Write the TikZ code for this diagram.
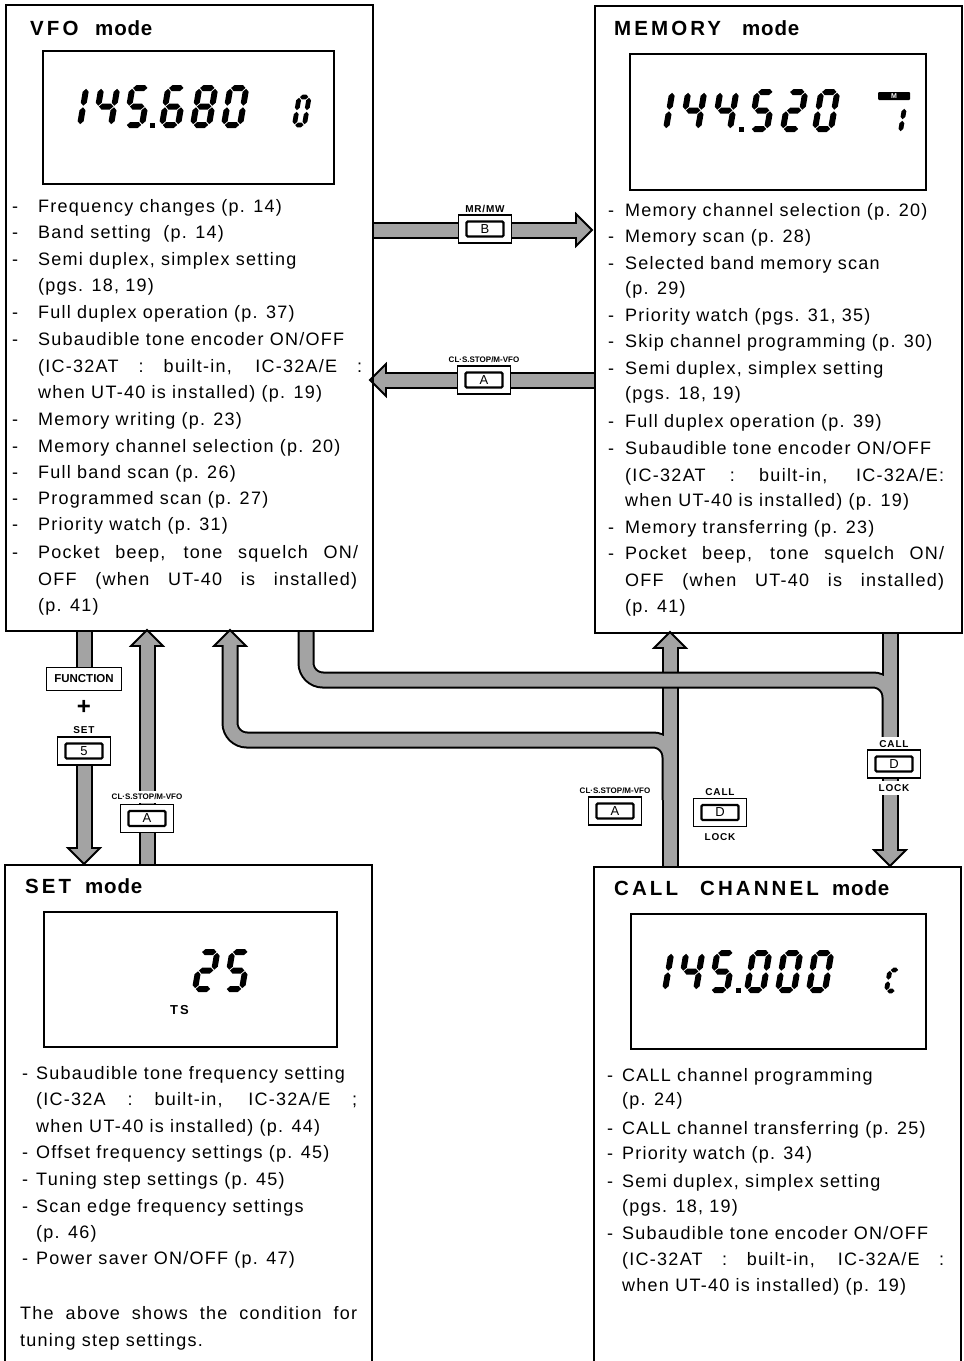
\documentclass[tikz,border=0pt]{standalone}
\usepackage{fontspec}
\setmainfont{Liberation Sans}
\newfontfamily\bodyf{Liberation Sans}[LetterSpace=7]
\newfontfamily\ttlf{Liberation Sans}[LetterSpace=15]
\newfontfamily\ttlg{Liberation Sans}[LetterSpace=4]
\newfontfamily\keyf{Liberation Sans}[LetterSpace=8]
\definecolor{shade}{gray}{0.64}

% seven-segment digits
\def\dW{16}\def\dH{37}\def\dT{3}\def\dG{0.8}
\newcommand\bigdigits{\def\dW{16}\def\dH{37}\def\dT{3}}
\newcommand\smalldigits[3]{\def\dW{#1}\def\dH{#2}\def\dT{#3}}
\newcommand\Hs[3]{\fill ({#1+\dG},{#3}) -- ({#1+\dG+\dT},{#3-\dT}) -- ({#2-\dG-\dT},{#3-\dT}) -- ({#2-\dG},{#3}) -- ({#2-\dG-\dT},{#3+\dT}) -- ({#1+\dG+\dT},{#3+\dT}) -- cycle;}
\newcommand\Vs[3]{\fill ({#1},{#2+\dG}) -- ({#1+\dT},{#2+\dG+\dT}) -- ({#1+\dT},{#3-\dG-\dT}) -- ({#1},{#3-\dG}) -- ({#1-\dT},{#3-\dG-\dT}) -- ({#1-\dT},{#2+\dG+\dT}) -- cycle;}
\newcommand\sA{\Hs{0}{\dW}{0}}
\newcommand\sB{\Vs{\dW}{0}{\dH/2}}
\newcommand\sC{\Vs{\dW}{\dH/2}{\dH}}
\newcommand\sD{\Hs{0}{\dW}{\dH}}
\newcommand\sE{\Vs{0}{\dH/2}{\dH}}
\newcommand\sF{\Vs{0}{0}{\dH/2}}
\newcommand\sG{\Hs{0}{\dW}{\dH/2}}
\newcommand\Dg[3]{\begin{scope}[shift={({#1+0.17*\dH+\dT},{#2-\dH})},xslant=0.17]
 \ifcase#3\relax \sA\sB\sC\sD\sE\sF
 \or \sB\sC
 \or \sA\sB\sG\sE\sD
 \or \sA\sB\sG\sC\sD
 \or \sF\sG\sB\sC
 \or \sA\sF\sG\sC\sD
 \or \sA\sF\sG\sE\sD\sC
 \or \sA\sB\sC
 \or \sA\sB\sC\sD\sE\sF\sG
 \or \sA\sB\sC\sD\sF\sG
 \or \sA\sF\sE\sD
 \fi
 \end{scope}}
\newcommand\Dot[2]{\fill (#1,#2) rectangle ({#1+5},{#2-5});}

% arrow heads (tip coordinates)
\newcommand\hdU[2]{\filldraw[head] (#1,#2) -- ({#1+16},{#2+16}) -- ({#1-16},{#2+16}) -- cycle;}
\newcommand\hdD[2]{\filldraw[head] (#1,#2) -- ({#1+16},{#2-16}) -- ({#1-16},{#2-16}) -- cycle;}
\newcommand\hdR[2]{\filldraw[head] (#1,#2) -- ({#1-16},{#2-16}) -- ({#1-16},{#2+16}) -- cycle;}
\newcommand\hdL[2]{\filldraw[head] (#1,#2) -- ({#1+16},{#2-16}) -- ({#1+16},{#2+16}) -- cycle;}

% text lines
\newcommand\Dl[5]{\node[txt] (#1d) at (#2,#4) {-}; \node[txt] (#1) at (#3,#4) {#5};}
\newcommand\Ln[4]{\node[txt] (#1) at (#2,#3) {#4};}
\newcommand\Md{{\ttlg mode}}

\begin{document}
\begin{tikzpicture}[x=1pt,y=-1pt,
  txt/.style={font=\bodyf\fontsize{18}{20}\selectfont, anchor=base west, inner sep=0},
  ttl/.style={font=\ttlf\bfseries\fontsize{20.5}{22}\selectfont, anchor=base west, inner sep=0},
  boxline/.style={draw, line width=1.6pt},
  lcd/.style={draw, line width=1.8pt, inner sep=0, anchor=north west},
  sout/.style={draw=black, line width=17pt},
  sin/.style={draw=shade, line width=13pt},
  head/.style={fill=shade, draw=black, line width=1.8pt, line join=miter},
  keyout/.style={draw, line width=1.1pt, fill=white, minimum width=53pt, minimum height=28pt, inner sep=0},
  keyin/.style={draw, line width=2.2pt, rounded corners=1.2pt, minimum width=37pt, minimum height=15pt, inner sep=0, font=\fontsize{13}{13}\selectfont},
  klab/.style={font=\keyf\bfseries\fontsize{10}{10}\selectfont, inner xsep=1.5pt, inner ysep=3pt, fill=white},
  klabs/.style={font=\bfseries\fontsize{8}{8}\selectfont, inner xsep=1pt, inner ysep=3pt, fill=white}]
\useasboundingbox (0,0) rectangle (964,1361);
\fill[white] (0,0) rectangle (964,1361);

% ---------- fat connectors ----------
% CALL -> MEMORY and CALL -> VFO
\draw[sout,rounded corners=17pt] (670,800) -- (670,740) -- (230,740) -- (230,646);
\draw[sout] (670,866) -- (670,648);
\hdU{230}{630}
\hdU{670}{632}
\draw[sin,rounded corners=17pt] (670,800) -- (670,740) -- (230,740) -- (230,643);
\draw[sin] (670,866) -- (670,645);
% VFO -> CALL and MEMORY -> CALL
\draw[sout,rounded corners=17pt] (306,630) -- (306,680) -- (890,680) -- (890,740);
\draw[sout] (890,632) -- (890,850);
\hdD{890}{866}
\draw[sin,rounded corners=17pt] (306,630) -- (306,680) -- (890,680) -- (890,740);
\draw[sin] (890,632) -- (890,853);
% VFO -> MEMORY
\draw[sout] (372,230) -- (576,230);
\hdR{592}{230}
\draw[sin] (372,230) -- (579,230);
% MEMORY -> VFO
\draw[sout] (594,380) -- (386,380);
\hdL{370}{380}
\draw[sin] (594,380) -- (383,380);
% VFO -> SET
\draw[sout] (84,630) -- (84,672);
\draw[sout] (84,760) -- (84,848);
\hdD{84}{864}
\draw[sin] (84,630) -- (84,672);
\draw[sin] (84,760) -- (84,851);
% SET -> VFO
\draw[sout] (147,864) -- (147,646);
\hdU{147}{630}
\draw[sin] (147,864) -- (147,643);

% ---------- keys ----------
\node[klab] (kbl) at (485,209) {MR/MW};
\node[keyout] (kb) at (485,229) {};
\node[keyin] (kbi) at (kb.center) {B};

\node[klabs] (ka1l) at (484,360) {CL·S.STOP/M-VFO};
\node[keyout] (ka1) at (484,380) {};
\node[keyin] (ka1i) at (ka1.center) {A};

\node[draw, line width=1.1pt, fill=white, minimum width=75pt, minimum height=23pt, inner sep=0, font=\bfseries\fontsize{11.5}{12}\selectfont] (fn) at (84,679) {FUNCTION};
\node[font=\bfseries\fontsize{24}{24}\selectfont, inner sep=0] (plus) at (84,707) {+};
\node[klab] (k5l) at (84,730) {SET};
\node[keyout] (k5) at (84,751) {};
\node[keyin] (k5i) at (k5.center) {5};

\node[klabs] (ka2l) at (147,797) {CL·S.STOP/M-VFO};
\node[keyout] (ka2) at (147,818.5) {};
\node[keyin] (ka2i) at (ka2.center) {A};

\node[klabs] (ka3l) at (615,791) {CL·S.STOP/M-VFO};
\node[keyout] (ka3) at (615,811) {};
\node[keyin] (ka3i) at (ka3.center) {A};

\node[klab] (kd1t) at (720,792) {CALL};
\node[keyout] (kd1) at (720,812.5) {};
\node[keyin] (kd1i) at (kd1.center) {D};
\node[klab] (kd1b) at (720,837) {LOCK};

\node[klab] (kd2t) at (894,744) {CALL};
\node[keyout] (kd2) at (894,764) {};
\node[keyin] (kd2i) at (kd2.center) {D};
\node[klab] (kd2b) at (894,788) {LOCK};

% ---------- mode boxes ----------
\node[boxline, minimum width=367pt, minimum height=626pt, anchor=north west, inner sep=0] (vfo) at (5,4) {};
\node[boxline, minimum width=367pt, minimum height=627pt, anchor=north west, inner sep=0] (mem) at (594,5) {};
\draw[boxline] (5,1380) -- (5,865) -- (372,865) -- (372,1380);
\draw[boxline] (594,1380) -- (594,867) -- (961,867) -- (961,1380);

% titles
\node[ttl] (tv) at (30,35) {\makebox[65pt][l]{VFO}\Md};
\node[ttl] (tm) at (614,35) {\makebox[128pt][l]{MEMORY}\Md};
\node[ttl] (ts) at (25,893) {\makebox[60pt][l]{SET}\Md};
\node[ttl] (tc) at (614,895) {\makebox[86pt][l]{CALL}\makebox[132pt][l]{CHANNEL}\Md};

% LCDs
\node[lcd, minimum width=291pt, minimum height=133pt] (lv) at (42,50) {};
\node[lcd, minimum width=296pt, minimum height=136pt] (lm) at (629,53) {};
\node[lcd, minimum width=293pt, minimum height=135pt] (ls) at (43,911) {};
\node[lcd, minimum width=295pt, minimum height=135pt] (lc) at (630,913) {};

% VFO display 145.680 0
\bigdigits
\Dg{61}{125}{1}\Dg{92}{125}{4}\Dg{123}{125}{5}\Dot{150}{128}
\Dg{159}{125}{6}\Dg{190}{125}{8}\Dg{221}{125}{0}
% MEMORY display 144.520 1
\Dg{647}{129}{1}\Dg{679}{129}{4}\Dg{711}{129}{4}\Dot{739}{132}
\Dg{748}{129}{5}\Dg{780}{129}{2}\Dg{812}{129}{0}
% SET display 25
\Dg{192}{989}{2}\Dg{223}{989}{5}
% CALL display 145.000 C
\Dg{646}{990}{1}\Dg{677}{990}{4}\Dg{708}{990}{5}\Dot{736}{993}
\Dg{744}{990}{0}\Dg{775}{990}{0}\Dg{806}{990}{0}
\smalldigits{10}{28}{2.4}
\Dg{292}{125}{0}
\smalldigits{8}{24}{2.4}
\Dg{890}{132}{1}
\smalldigits{9}{21}{2.4}
\Dg{884}{991}{10}
\node[fill=black, rounded corners=1pt, text=white, font=\bfseries\fontsize{7}{7}\selectfont, minimum width=32pt, minimum height=8pt, inner sep=0] (mbadge) at (894,96) {M};
\node[font=\keyf\bfseries\fontsize{13}{13}\selectfont, anchor=base west, inner sep=0] (tsl) at (170,1014) {T\hspace{2pt}S};

% ---------- VFO text ----------
\Dl{v1}{12}{38}{212}{Frequency changes (p. 14)}
\Dl{v2}{12}{38}{238}{Band setting\ \ (p. 14)}
\Dl{v3}{12}{38}{265}{Semi duplex, simplex setting}
\Ln{v4}{38}{291}{(pgs. 18, 19)}
\Dl{v5}{12}{38}{318}{Full duplex operation (p. 37)}
\Dl{v6}{12}{38}{345}{Subaudible tone encoder ON/OFF}
\Ln{v7}{38}{372}{\makebox[324pt][s]{(IC-32AT : built-in, IC-32A/E :}}
\Ln{v8}{38}{398}{when UT-40 is installed) (p. 19)}
\Dl{v9}{12}{38}{425}{Memory writing (p. 23)}
\Dl{v10}{12}{38}{452}{Memory channel selection (p. 20)}
\Dl{v11}{12}{38}{478}{Full band scan (p. 26)}
\Dl{v12}{12}{38}{504}{Programmed scan (p. 27)}
\Dl{v13}{12}{38}{530}{Priority watch (p. 31)}
\Dl{v14}{12}{38}{558}{\makebox[320pt][s]{Pocket beep, tone squelch ON/}}
\Ln{v15}{38}{585}{\makebox[319pt][s]{OFF (when UT-40 is installed)}}
\Ln{v16}{38}{611}{(p. 41)}

% ---------- MEMORY text ----------
\Dl{m1}{608}{625}{216}{Memory channel selection (p. 20)}
\Dl{m2}{608}{625}{242}{Memory scan (p. 28)}
\Dl{m3}{608}{625}{269}{Selected band memory scan}
\Ln{m4}{625}{294}{(p. 29)}
\Dl{m5}{608}{625}{321}{Priority watch (pgs. 31, 35)}
\Dl{m6}{608}{625}{347}{Skip channel programming (p. 30)}
\Dl{m7}{608}{625}{374}{Semi duplex, simplex setting}
\Ln{m8}{625}{399}{(pgs. 18, 19)}
\Dl{m9}{608}{625}{427}{Full duplex operation (p. 39)}
\Dl{m10}{608}{625}{454}{Subaudible tone encoder ON/OFF}
\Ln{m11}{625}{481}{\makebox[319pt][s]{(IC-32AT : built-in, IC-32A/E:}}
\Ln{m12}{625}{506}{when UT-40 is installed) (p. 19)}
\Dl{m13}{608}{625}{533}{Memory transferring (p. 23)}
\Dl{m14}{608}{625}{559}{\makebox[319pt][s]{Pocket beep, tone squelch ON/}}
\Ln{m15}{625}{586}{\makebox[319pt][s]{OFF (when UT-40 is installed)}}
\Ln{m16}{625}{612}{(p. 41)}

% ---------- SET text ----------
\Dl{s1}{22}{36}{1079}{Subaudible tone frequency setting}
\Ln{s2}{36}{1105}{\makebox[321pt][s]{(IC-32A : built-in, IC-32A/E ;}}
\Ln{s3}{36}{1132}{when UT-40 is installed) (p. 44)}
\Dl{s4}{22}{36}{1158}{Offset frequency settings (p. 45)}
\Dl{s5}{22}{36}{1185}{Tuning step settings (p. 45)}
\Dl{s6}{22}{36}{1212}{Scan edge frequency settings}
\Ln{s7}{36}{1238}{(p. 46)}
\Dl{s8}{22}{36}{1264}{Power saver ON/OFF (p. 47)}
\Ln{s9}{20}{1319}{\makebox[337pt][s]{The above shows the condition for}}
\Ln{s10}{20}{1346}{tuning step settings.}

% ---------- CALL text ----------
\Dl{c1}{607}{622}{1081}{CALL channel programming}
\Ln{c2}{622}{1105}{(p. 24)}
\Dl{c3}{607}{622}{1134}{CALL channel transferring (p. 25)}
\Dl{c4}{607}{622}{1159}{Priority watch (p. 34)}
\Dl{c5}{607}{622}{1187}{Semi duplex, simplex setting}
\Ln{c6}{622}{1212}{(pgs. 18, 19)}
\Dl{c7}{607}{622}{1239}{Subaudible tone encoder ON/OFF}
\Ln{c8}{622}{1265}{\makebox[322pt][s]{(IC-32AT : built-in, IC-32A/E :}}
\Ln{c9}{622}{1291}{when UT-40 is installed) (p. 19)}
\end{tikzpicture}
\end{document}
